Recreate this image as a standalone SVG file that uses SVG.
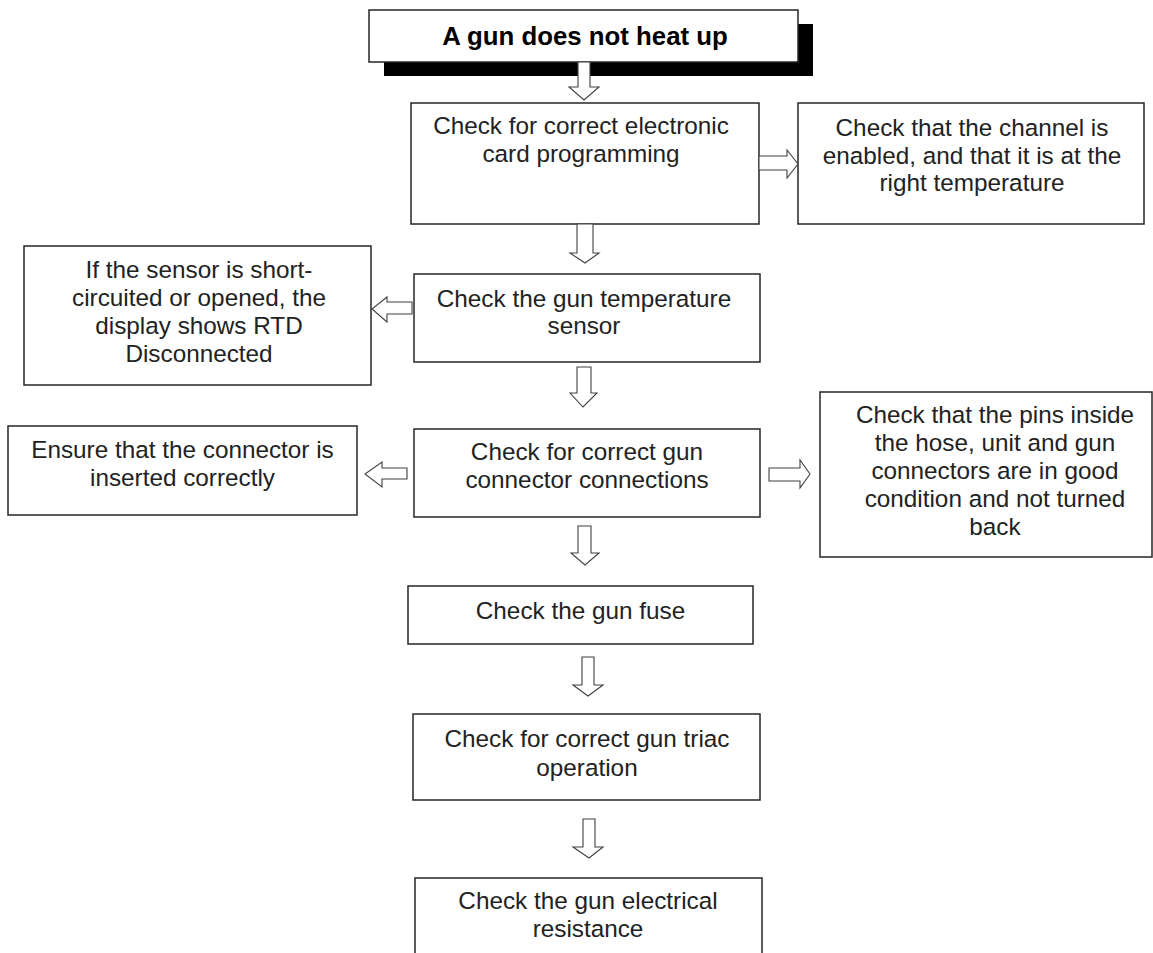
<svg xmlns="http://www.w3.org/2000/svg" width="1153" height="953" viewBox="0 0 1153 953">
<style>
.box{fill:#fff;stroke:#262626;stroke-width:1.5}
.t{font-family:"Liberation Sans",Arial,sans-serif;font-size:24.3px;fill:#222;text-anchor:middle}
.tb{font-family:"Liberation Sans",Arial,sans-serif;font-size:25.8px;font-weight:bold;fill:#000;text-anchor:middle}
.arr{fill:#fff;stroke:#404040;stroke-width:1.1;stroke-linejoin:miter}
</style>
<rect width="1153" height="953" fill="#fff"/>
<g id="title">
<rect x="384" y="24" width="429" height="52" fill="#000"/>
<rect class="box" x="369" y="10" width="429" height="52"/>
<text class="tb" x="585" y="45">A gun does not heat up</text>
</g>
<g id="n-card">
<rect class="box" x="411" y="103" width="348" height="121"/>
<text class="t" x="581" y="134">Check for correct electronic</text>
<text class="t" x="581" y="162">card programming</text>
</g>
<g id="n-channel">
<rect class="box" x="798" y="103" width="346" height="121"/>
<text class="t" x="972" y="136">Check that the channel is</text>
<text class="t" x="972" y="164">enabled, and that it is at the</text>
<text class="t" x="972" y="191">right temperature</text>
</g>
<g id="n-sensor-msg">
<rect class="box" x="24" y="246" width="347" height="139"/>
<text class="t" x="199" y="278">If the sensor is short-</text>
<text class="t" x="199" y="306">circuited or opened, the</text>
<text class="t" x="199" y="334">display shows RTD</text>
<text class="t" x="199" y="362">Disconnected</text>
</g>
<g id="n-sensor">
<rect class="box" x="414" y="274" width="346" height="88"/>
<text class="t" x="584" y="307">Check the gun temperature</text>
<text class="t" x="584" y="334">sensor</text>
</g>
<g id="n-ensure">
<rect class="box" x="8" y="426" width="349" height="89"/>
<text class="t" x="182.5" y="458">Ensure that the connector is</text>
<text class="t" x="182.5" y="486">inserted correctly</text>
</g>
<g id="n-connector">
<rect class="box" x="414" y="429" width="346" height="88"/>
<text class="t" x="587" y="460">Check for correct gun</text>
<text class="t" x="587" y="488">connector connections</text>
</g>
<g id="n-pins">
<rect class="box" x="820" y="392" width="332" height="165"/>
<text class="t" x="995" y="423">Check that the pins inside</text>
<text class="t" x="995" y="451">the hose, unit and gun</text>
<text class="t" x="995" y="479">connectors are in good</text>
<text class="t" x="995" y="507">condition and not turned</text>
<text class="t" x="995" y="535">back</text>
</g>
<g id="n-fuse">
<rect class="box" x="408" y="586" width="345" height="58"/>
<text class="t" x="580.5" y="619">Check the gun fuse</text>
</g>
<g id="n-triac">
<rect class="box" x="413" y="714" width="347" height="86"/>
<text class="t" x="587" y="747">Check for correct gun triac</text>
<text class="t" x="587" y="776">operation</text>
</g>
<g id="n-resistance">
<rect class="box" x="415" y="878" width="347" height="90"/>
<text class="t" x="588" y="909">Check the gun electrical</text>
<text class="t" x="588" y="937">resistance</text>
</g>
<g id="connectors">
<polygon class="arr" points="578,62 590,62 590,87 599,87 584,100 569,87 578,87"/>
<polygon class="arr" points="759,156 787,156 787,150 798,164 787,178 787,170 759,170"/>
<polygon class="arr" points="577,224 593,224 593,253 599,253 585,263 570,253 577,253"/>
<polygon class="arr" points="412,302 387,302 387,297 372,309 387,322 387,314 412,314"/>
<polygon class="arr" points="577,367 591,367 591,393 597,393 583,407 570,393 577,393"/>
<polygon class="arr" points="407,468 382,468 382,462 365,474 382,487 382,479 407,479"/>
<polygon class="arr" points="769,468 800,468 800,460 810,474 800,488 800,481 769,481"/>
<polygon class="arr" points="578,526 591,526 591,553 599,553 585,565 571,553 578,553"/>
<polygon class="arr" points="582,657 594,657 594,685 603,685 588,696 573,685 582,685"/>
<polygon class="arr" points="583,819 595,819 595,847 603,847 589,858 573,847 583,847"/>
</g>
</svg>
